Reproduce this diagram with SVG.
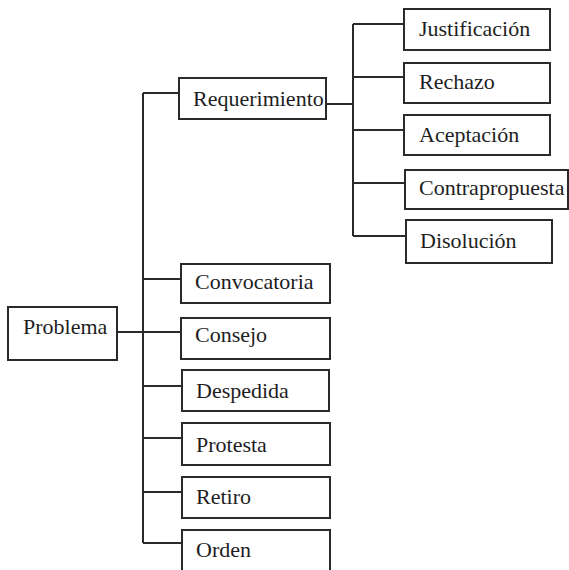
<svg xmlns="http://www.w3.org/2000/svg" width="569" height="570" viewBox="0 0 569 570">
<style>
.box{fill:#fff;stroke:#2a2a2a;stroke-width:2}
.lbl{font-family:"Liberation Serif","Times New Roman",serif;font-size:22px;fill:#1e1e1e}
.conn{fill:none;stroke:#2a2a2a;stroke-width:2}
</style>
<rect width="569" height="570" fill="#fff"/>
<g id="connectors" class="conn">
<path d="M143,93 V543"/>
<path d="M143,93 H179"/>
<path d="M117,332 H181"/>
<path d="M143,279 H181"/>
<path d="M143,386 H182"/>
<path d="M143,438 H182"/>
<path d="M143,492 H182"/>
<path d="M143,543 H182"/>
<path d="M326,104 H353"/>
<path d="M353,24 V236"/>
<path d="M353,24 H404"/>
<path d="M353,77 H404"/>
<path d="M353,130 H404"/>
<path d="M353,183 H405"/>
<path d="M353,236 H406"/>
</g>
<g id="problema"><rect class="box" x="8" y="307" width="109" height="53"/><text class="lbl" x="23" y="334">Problema</text></g>
<g id="requerimiento"><rect class="box" x="179" y="78" width="147" height="41"/><text class="lbl" x="193" y="106">Requerimiento</text></g>
<g id="justificacion"><rect class="box" x="404" y="9" width="146" height="41"/><text class="lbl" x="419" y="36">Justificación</text></g>
<g id="rechazo"><rect class="box" x="404" y="63" width="146" height="40"/><text class="lbl" x="419" y="89">Rechazo</text></g>
<g id="aceptacion"><rect class="box" x="404" y="115" width="146" height="40"/><text class="lbl" x="419" y="142">Aceptación</text></g>
<g id="contrapropuesta"><rect class="box" x="405" y="170" width="163" height="39"/><text class="lbl" x="419" y="195">Contrapropuesta</text></g>
<g id="disolucion"><rect class="box" x="406" y="220" width="146" height="43"/><text class="lbl" x="420" y="248">Disolución</text></g>
<g id="convocatoria"><rect class="box" x="181" y="264" width="149" height="39"/><text class="lbl" x="195" y="289">Convocatoria</text></g>
<g id="consejo"><rect class="box" x="181" y="318" width="149" height="41"/><text class="lbl" x="195" y="342">Consejo</text></g>
<g id="despedida"><rect class="box" x="182" y="370" width="147" height="41"/><text class="lbl" x="196" y="398">Despedida</text></g>
<g id="protesta"><rect class="box" x="182" y="423" width="148" height="42"/><text class="lbl" x="196" y="452">Protesta</text></g>
<g id="retiro"><rect class="box" x="182" y="477" width="148" height="41"/><text class="lbl" x="196" y="504">Retiro</text></g>
<g id="orden"><rect class="box" x="182" y="530" width="148" height="42"/><text class="lbl" x="196" y="557">Orden</text></g>
</svg>
